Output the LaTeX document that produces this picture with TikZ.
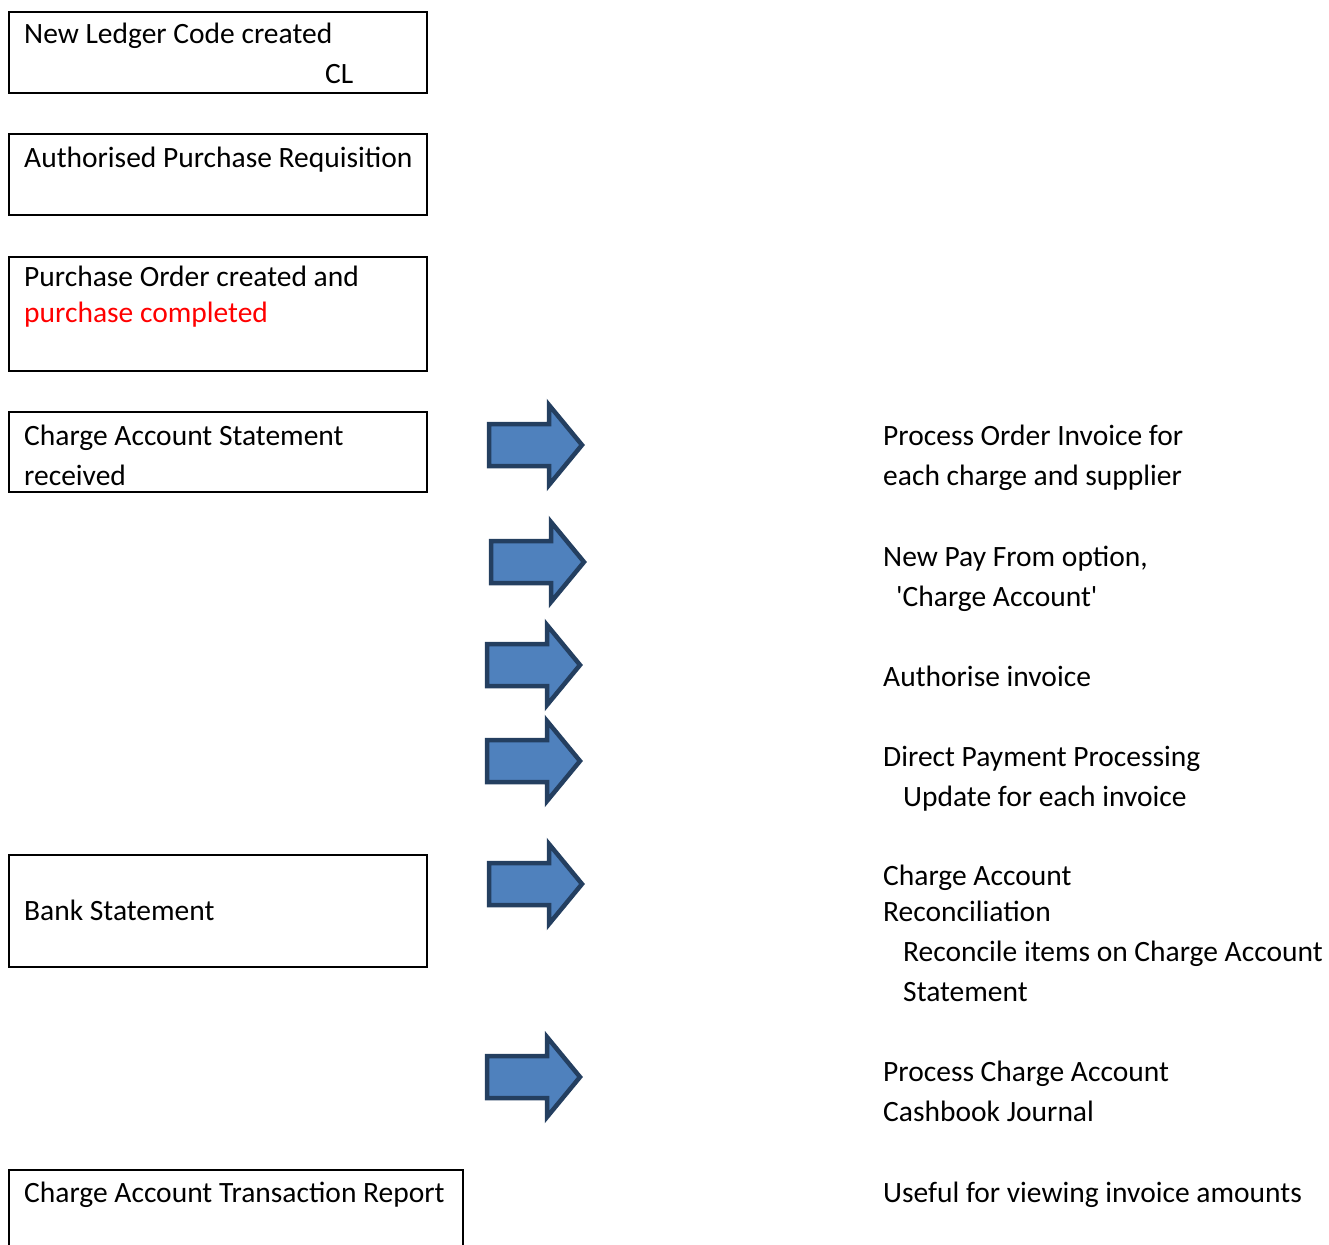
\documentclass[tikz,border=0pt]{standalone}
\usepackage{fontspec}
\setmainfont{Carlito}
\usepackage{tikz}
\definecolor{arrowfill}{HTML}{4F81BD}
\definecolor{arrowline}{HTML}{243F60}
\tikzset{
  stepbox/.style={draw=black, line width=2pt},
  steptext/.style={anchor=base west, inner sep=0pt, align=left, font=\fontsize{29.5}{40}\selectfont},
  blockarrow/.style={draw=arrowline, fill=arrowfill, line width=4.5pt, line join=miter}
}
\def\blockarrow(#1,#2){\draw[blockarrow] (#1,#2-21) -- (#1+60,#2-21) -- (#1+60,#2-40) -- (#1+93,#2) -- (#1+60,#2+40) -- (#1+60,#2+21) -- (#1,#2+21) -- cycle;}

\begin{document}
\begin{tikzpicture}[x=1pt,y=-1pt]
    \useasboundingbox (0,0) rectangle (1329,1244);

    % left hand boxes (multi-line texts sit on their last baseline)
    \draw[stepbox] (9,12) rectangle (427,93);
    \node[steptext] (ledger) at (24,44) {New Ledger Code created};
    \node[steptext] (ledgercl) at (325,84) {CL};

    \draw[stepbox] (9,134) rectangle (427,215);
    \node[steptext] (requisition) at (24,167) {Authorised Purchase Requisition};

    \draw[stepbox] (9,257) rectangle (427,371);
    \node[steptext] (order) at (24,322) {Purchase Order created and\\[-4pt]\textcolor{red}{purchase completed}};

    \draw[stepbox] (9,412) rectangle (427,492);
    \node[steptext] (chargestmt) at (24,485) {Charge Account Statement\\received};

    \draw[stepbox] (9,855) rectangle (427,967);
    \node[steptext] (bankstmt) at (24,920) {Bank Statement};

    \draw[stepbox] (9,1250) -- (9,1170) -- (463,1170) -- (463,1250);
    \node[steptext] (report) at (24,1202) {Charge Account Transaction Report};

    % block arrows
    \blockarrow(489,445)
    \blockarrow(491,562)
    \blockarrow(487,665)
    \blockarrow(487,761)
    \blockarrow(489,884)
    \blockarrow(487,1077)

    % right hand steps
    \node[steptext] (invoice) at (883,485) {Process Order Invoice for\\each charge and supplier};
    \node[steptext] (payfrom) at (883,606) {New Pay From option,\\\hspace*{13pt}\textquotesingle Charge Account\textquotesingle};
    \node[steptext] (authorise) at (883,686) {Authorise invoice};
    \node[steptext] (payment) at (883,806) {Direct Payment Processing\\\hspace*{20pt}Update for each invoice};
    \node[steptext] (reconcile) at (883,1001) {Charge Account\\[-4pt]Reconciliation\\\hspace*{20pt}Reconcile items on Charge Account\\\hspace*{20pt}Statement};
    \node[steptext] (cashbook) at (883,1121) {Process Charge Account\\Cashbook Journal};
    \node[steptext] (useful) at (883,1202) {Useful for viewing invoice amounts};
\end{tikzpicture}
\end{document}
